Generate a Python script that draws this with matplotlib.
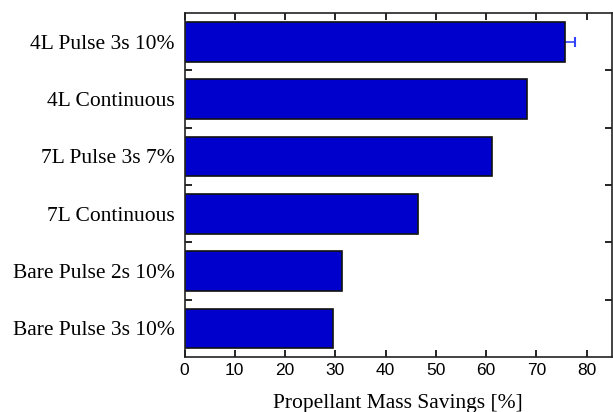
import matplotlib
matplotlib.use("Agg")
import matplotlib.pyplot as plt
import numpy as np

categories = ["4L Pulse 3s 10%", "4L Continuous", "7L Pulse 3s 7%",
              "7L Continuous", "Bare Pulse 2s 10%", "Bare Pulse 3s 10%"]
savings = [75.7, 68.2, 61.1, 46.4, 31.4, 29.5]
errors = [2.0, 0, 0, 0, 0, 0]
x_ticks = [0, 10, 20, 30, 40, 50, 60, 70, 80]

fig = plt.figure(figsize=(6.13, 4.12), dpi=100)
ax = fig.add_axes([0.301, 0.1335, 0.697, 0.8345])

n = len(categories)
ypos = np.arange(n)[::-1]
ax.barh(ypos, savings, height=0.69, color="#0000CC", edgecolor="#111111",
        linewidth=1.2, zorder=2)
ax.errorbar(savings[0], ypos[0], xerr=errors[0], fmt="none", ecolor="#3344FF",
            elinewidth=1.2, capsize=3.5, capthick=1.5, zorder=1)

ax.set_xlim(0, 85)
ax.set_ylim(-0.5, n - 0.5)

ax.set_xticks(x_ticks)
ax.set_xticklabels([str(t) for t in x_ticks], fontfamily="Liberation Sans", fontsize=12.5)
ax.tick_params(axis="x", direction="in", top=True, bottom=True, length=5, width=1.2,
               pad=4)

ax.set_yticks(ypos)
ax.set_yticklabels(categories, fontfamily="Liberation Serif", fontsize=15.5)
ax.tick_params(axis="y", which="major", length=0, pad=7)
ax.set_yticks(np.arange(n - 1) + 0.5, minor=True)
ax.tick_params(axis="y", which="minor", direction="in", left=True, right=True,
               length=5, width=1.2)

for s in ax.spines.values():
    s.set_linewidth(1.2)
    s.set_color("#222222")

ax.set_xlabel("Propellant Mass Savings [%]", fontfamily="Liberation Serif",
              fontsize=15.5, labelpad=12)

fig.savefig("out.png", dpi=100)
